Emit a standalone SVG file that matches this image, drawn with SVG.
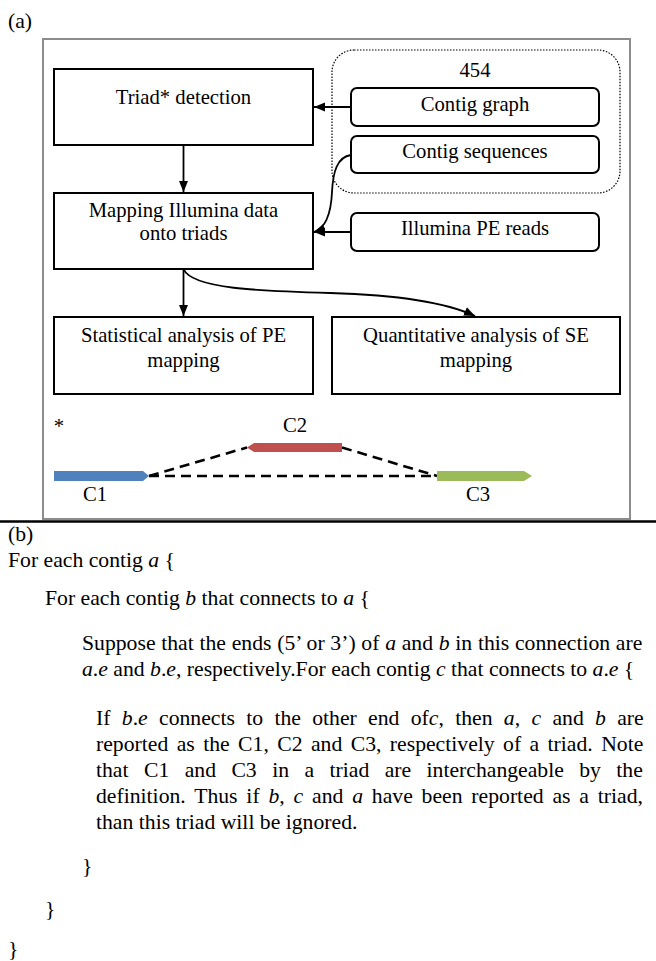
<svg xmlns="http://www.w3.org/2000/svg" width="656" height="961" viewBox="0 0 656 961">
<defs>
<marker id="ah" markerUnits="userSpaceOnUse" markerWidth="12" markerHeight="12" viewBox="0 0 12 12" refX="11" refY="6" orient="auto">
<path d="M0,1.5 L11,6 L0,10.5 Z" fill="#000"/>
</marker>
<style>
text{font-family:"Liberation Serif","Times New Roman",serif;fill:#000}
.bt{font-size:20.7px;text-anchor:middle}
.body{font-size:21.7px}
.i{font-style:italic}
.box{fill:#fff;stroke:#000;stroke-width:2}
.rbox{fill:#fff;stroke:#000;stroke-width:2}
.conn{fill:none;stroke:#000;stroke-width:1.8}
.dash{fill:none;stroke:#000;stroke-width:2.6;stroke-dasharray:10 6}
</style>
</defs>
<rect width="656" height="961" fill="#fff"/>
<text class="body" x="8" y="28">(a)</text>
<rect x="43" y="39" width="587" height="480" fill="none" stroke="#8c8c8c" stroke-width="2"/>
<line x1="0" y1="521.5" x2="656" y2="521.5" stroke="#000" stroke-width="2.6"/>

<g id="group454">
<rect x="332" y="50" width="288" height="143" rx="22" fill="none" stroke="#000" stroke-width="1.2" stroke-dasharray="1.5 1.5"/>
<text class="bt" x="475" y="77">454</text>
</g>

<g id="triad">
<rect class="box" x="54" y="69" width="259" height="76"/>
<text class="bt" x="183.5" y="104">Triad* detection</text>
</g>
<g id="mapping">
<rect class="box" x="54" y="193" width="259" height="76"/>
<text class="bt" x="183.5" y="217">Mapping Illumina data</text>
<text class="bt" x="183.5" y="240">onto triads</text>
</g>
<g id="stat">
<rect class="box" x="54" y="317" width="259" height="77"/>
<text class="bt" x="183.5" y="342">Statistical analysis of PE</text>
<text class="bt" x="183.5" y="367">mapping</text>
</g>
<g id="quant">
<rect class="box" x="332" y="317" width="288" height="77"/>
<text class="bt" x="476" y="342">Quantitative analysis of SE</text>
<text class="bt" x="476" y="367">mapping</text>
</g>
<g id="contiggraph">
<rect class="rbox" x="351" y="88" width="248" height="38" rx="6"/>
<text class="bt" x="475" y="111">Contig graph</text>
</g>
<g id="contigseq">
<rect class="rbox" x="351" y="136" width="248" height="37" rx="6"/>
<text class="bt" x="475" y="158">Contig sequences</text>
</g>
<g id="illumina">
<rect class="rbox" x="351" y="213" width="248" height="38" rx="6"/>
<text class="bt" x="475" y="235">Illumina PE reads</text>
</g>

<g id="connectors">
<line class="conn" x1="183.5" y1="145" x2="183.5" y2="192" marker-end="url(#ah)"/>
<line class="conn" x1="351" y1="107" x2="314" y2="107" marker-end="url(#ah)"/>
<path class="conn" d="M351,155 C337,157 333,172 332,192 C331,214 326,228 314,232" marker-end="url(#ah)"/>
<line class="conn" x1="351" y1="232" x2="314" y2="232" marker-end="url(#ah)"/>
<line class="conn" x1="183.5" y1="269" x2="183.5" y2="316" marker-end="url(#ah)"/>
<path class="conn" d="M183.5,269 C192,289 260,291 330,293 C400,295 445,302 475,316" marker-end="url(#ah)"/>
</g>

<g id="triad-figure">
<text class="bt" x="59" y="433">*</text>
<path class="dash" d="M149,476 L247,447.5"/>
<path class="dash" d="M149,476 L437,476"/>
<path class="dash" d="M342,447.5 L437,476"/>
<path d="M54,471 L143,471 L149,476 L143,481 L54,481 Z" fill="#4F81BD"/>
<path d="M247,447.5 L254,443 L342,443 L342,452 L254,452 Z" fill="#C0504D"/>
<path d="M437,471 L524,471 L532,476 L524,481 L437,481 Z" fill="#9BBB59"/>
<text class="bt" x="295" y="432">C2</text>
<text class="bt" x="95" y="501">C1</text>
<text class="bt" x="478" y="501">C3</text>
</g>

<g id="algorithm">
<text class="body" x="8" y="541">(b)</text>
<text class="body" x="8" y="567">For each contig <tspan class="i">a</tspan> {</text>
<text class="body" x="45" y="605">For each contig <tspan class="i">b</tspan> that connects to <tspan class="i">a</tspan> {</text>
<text class="body" x="82" y="650" word-spacing="0.3">Suppose that the ends (5’ or 3’) of <tspan class="i">a</tspan> and <tspan class="i">b</tspan> in this connection are</text>
<text class="body" x="82" y="676"><tspan class="i">a</tspan>.<tspan class="i">e</tspan> and <tspan class="i">b</tspan>.<tspan class="i">e</tspan>, respectively.For each contig <tspan class="i">c</tspan> that connects to <tspan class="i">a</tspan>.<tspan class="i">e</tspan> {</text>
<text class="body" x="96" y="725" word-spacing="5.9">If <tspan class="i">b</tspan>.<tspan class="i">e</tspan> connects to the other end of<tspan class="i">c</tspan>, then <tspan class="i">a</tspan>, <tspan class="i">c</tspan> and <tspan class="i">b</tspan> are</text>
<text class="body" x="96" y="751" word-spacing="3.0">reported as the C1, C2 and C3, respectively of a triad. Note</text>
<text class="body" x="96" y="777" word-spacing="10.0">that C1 and C3 in a triad are interchangeable by the</text>
<text class="body" x="96" y="803" word-spacing="3.4">definition. Thus if <tspan class="i">b</tspan>, <tspan class="i">c</tspan> and <tspan class="i">a</tspan> have been reported as a triad,</text>
<text class="body" x="96" y="829">than this triad will be ignored.</text>
<text class="body" x="82" y="873">}</text>
<text class="body" x="45" y="916">}</text>
<text class="body" x="8" y="956">}</text>
</g>
</svg>
